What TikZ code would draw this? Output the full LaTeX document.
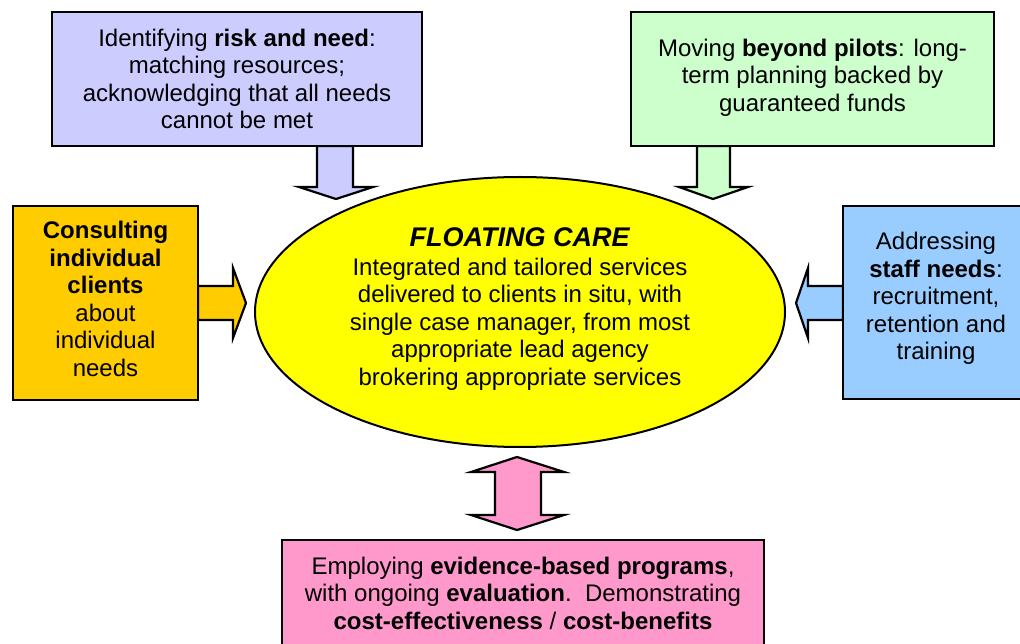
\documentclass[tikz,border=0pt]{standalone}
\usepackage{fontspec}
\setmainfont{Liberation Sans}
\usetikzlibrary{shapes.geometric,calc}
\definecolor{cPurple}{HTML}{CCCCFF}
\definecolor{cGreen}{HTML}{CCFFCC}
\definecolor{cOrange}{HTML}{FFCC00}
\definecolor{cBlue}{HTML}{99CCFF}
\definecolor{cPink}{HTML}{FF99CC}
\definecolor{cYellow}{HTML}{FFFF00}
\begin{document}
\begin{tikzpicture}[x=1pt,y=-1pt,
  box/.style={draw=black, line width=2.6pt, rectangle, inner sep=0pt},
  txt/.style={align=center, inner sep=0pt, font=\fontsize{24}{27.5}\selectfont},
  barrow/.style={draw=black, line width=2.2pt, line join=miter}]
\useasboundingbox (0,0) rectangle (1020,644);
\clip (0,0) rectangle (1020,644);

% block arrows
\draw[barrow, fill=cPurple] (317,146) -- (317,187) -- (299,187) -- (336,199) -- (373,187) -- (353,187) -- (353,146) -- cycle;
\draw[barrow, fill=cGreen] (697,146) -- (697,187) -- (679,187) -- (713,199) -- (748,187) -- (730,187) -- (730,146) -- cycle;
\draw[barrow, fill=cOrange] (198,286) -- (233,286) -- (233,268) -- (246,303) -- (233,338) -- (233,320) -- (198,320) -- cycle;
\draw[barrow, fill=cBlue] (843,286) -- (808,286) -- (808,268) -- (796,303) -- (808,338) -- (808,320) -- (843,320) -- cycle;
\draw[barrow, fill=cPink] (517,457) -- (564,472) -- (541,472) -- (541,515) -- (564,515) -- (517,530) -- (471,515) -- (495,515) -- (495,472) -- (471,472) -- cycle;

% boxes
\node[box, fill=cPurple, minimum width=370pt, minimum height=134pt] (risk) at (237,79) {};
\node[txt] (risktxt) at (237,79) {Identifying \textbf{risk and need}:\\matching resources;\\acknowledging that all needs\\cannot be met};

\node[box, fill=cGreen, minimum width=363pt, minimum height=134pt] (pilots) at (812.5,79) {};
\node[txt] (pilotstxt) at (812.5,77.5) {Moving \textbf{beyond pilots}: long-\\term planning backed by\\guaranteed funds};

\node[box, fill=cOrange, minimum width=185pt, minimum height=194pt] (clients) at (105.5,303) {};
\node[txt] (clientstxt) at (105.5,299) {\textbf{Consulting}\\\textbf{individual}\\\textbf{clients}\\about\\individual\\needs};

\node[box, fill=cBlue, minimum width=186pt, minimum height=193pt] (staff) at (936,302.5) {};
\node[txt] (stafftxt) at (936,298.5) {Addressing\\\textbf{staff needs}:\\recruitment,\\retention and\\training};

\node[box, fill=cPink, minimum width=482pt, minimum height=108pt] (evidence) at (523,594) {};
\node[txt] (evidencetxt) at (523,593) {Employing \textbf{evidence-based programs},\\with ongoing \textbf{evaluation}.\ \ Demonstrating\\\textbf{cost-effectiveness} / \textbf{cost-benefits}};

% ellipse
\node[ellipse, draw=black, line width=2pt, fill=cYellow, minimum width=530pt, minimum height=270pt, inner sep=0pt] (care) at (520,312) {};
\node[txt] (caretxt) at (520,309) {{\fontsize{27}{27.5}\selectfont\textbf{\textit{FLOATING CARE}}}\\[1pt]Integrated and tailored services\\delivered to clients in situ, with\\single case manager, from most\\appropriate lead agency\\brokering appropriate services};
\end{tikzpicture}
\end{document}
